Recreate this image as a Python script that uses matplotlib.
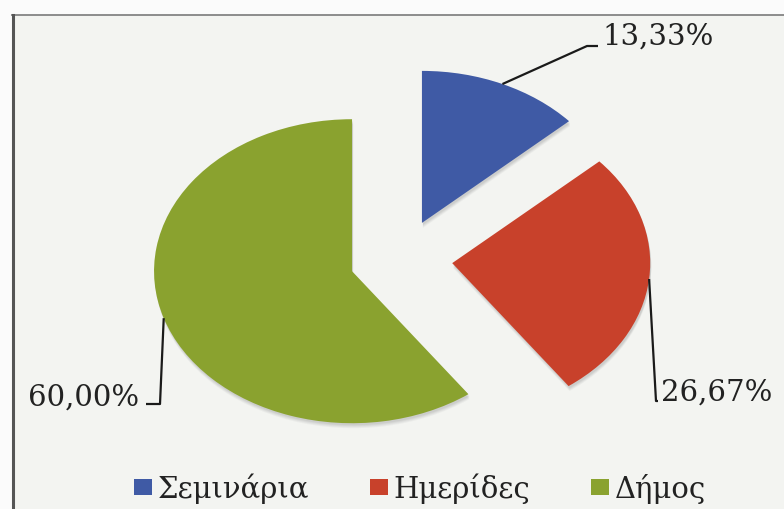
import numpy as np
import matplotlib
matplotlib.use("Agg")
import matplotlib.pyplot as plt
from matplotlib.patches import Rectangle, Patch, Wedge
from matplotlib.lines import Line2D

# ---- data ----
categories = ["Σεμινάρια", "Ημερίδες", "Δήμος"]
percentages = [13.33, 26.67, 60.00]
colors = ["#3f5aa5", "#c8412b", "#8aa22f"]

plt.rcParams['font.family'] = ['DejaVu Serif', 'Liberation Serif']

W, H = 784, 510
fig = plt.figure(figsize=(W / 100, H / 100), dpi=100, facecolor="#fbfbfb")

def fx(px):
    return px / W

def fy(py):
    return 1 - py / H

bg = Rectangle((fx(12), 0), 1 - fx(12), fy(16), transform=fig.transFigure,
               facecolor="#f3f4f1", edgecolor="none", zorder=-5)
fig.patches.append(bg)
fig.lines.append(Line2D([fx(12), 1], [fy(16), fy(16)], transform=fig.transFigure,
                        color="#8c8c8c", lw=1.4, zorder=5))
fig.lines.append(Line2D([fx(12.5), fx(12.5)], [0, fy(16)], transform=fig.transFigure,
                        color="#555555", lw=2.2, zorder=5))

ax = fig.add_axes([0, 0, 1, 1])
ax.set_facecolor("none")

explode_frac = 0.26
wedges, _ = ax.pie(percentages, colors=colors, startangle=90, counterclock=False,
                   explode=[explode_frac] * len(percentages), radius=1.0,
                   wedgeprops=dict(linewidth=0, zorder=3))

# pixel mapping: pie centre at (401, 260), rx=198 px, ry=152 px
CX, CY, RX, RY = 401, 260, 198, 152
ax.set_aspect("auto")
ax.set_xlim((0 - CX) / RX, (W - CX) / RX)
ax.set_ylim((CY - H) / RY, (CY - 0) / RY)
ax.axis("off")

# soft shadows under the wedges
for w in wedges:
    for k, a in [(5, 0.05), (4, 0.06), (3, 0.07), (2, 0.08)]:
        sh = Wedge((w.center[0] + 1.0 / RX, w.center[1] - k / RY), w.r,
                   w.theta1, w.theta2, facecolor="#555555", alpha=a,
                   edgecolor="none", zorder=2)
        ax.add_patch(sh)

def d(px, py):
    return ((px - CX) / RX, (CY - py) / RY)

label_layout = [
    ([(587, 47), (598, 47)], (602, 37), "left"),
    ([(656, 402), (658, 402)], (661, 393), "left"),
    ([(160, 405), (146, 405)], (139, 398), "right"),
]
for w, pct, (pts, tpos, ha) in zip(wedges, percentages, label_layout):
    m = np.deg2rad((w.theta1 + w.theta2) / 2)
    r = 1.0 + explode_frac
    start = (r * np.cos(m), r * np.sin(m))
    xs = [start[0]] + [d(*p)[0] for p in pts]
    ys = [start[1]] + [d(*p)[1] for p in pts]
    ax.plot(xs, ys, color="#1a1a1a", lw=1.6, solid_capstyle="butt", zorder=4)
    txt = f"{pct:.2f}".replace(".", ",") + "%"
    tx, ty = d(*tpos)
    ax.text(tx, ty, txt, ha=ha, va="center", fontsize=21, color="#222222", zorder=5)

handles = [Patch(facecolor=c, edgecolor="none") for c in colors]
fig.legend(handles, categories, loc="center", bbox_to_anchor=(fx(420), fy(489)),
           ncol=3, frameon=False, fontsize=21, handlelength=0.6, handleheight=0.45,
           handletextpad=0.2, columnspacing=2.1, labelcolor="#222222")

fig.savefig("out.png", dpi=100, facecolor=fig.get_facecolor())
